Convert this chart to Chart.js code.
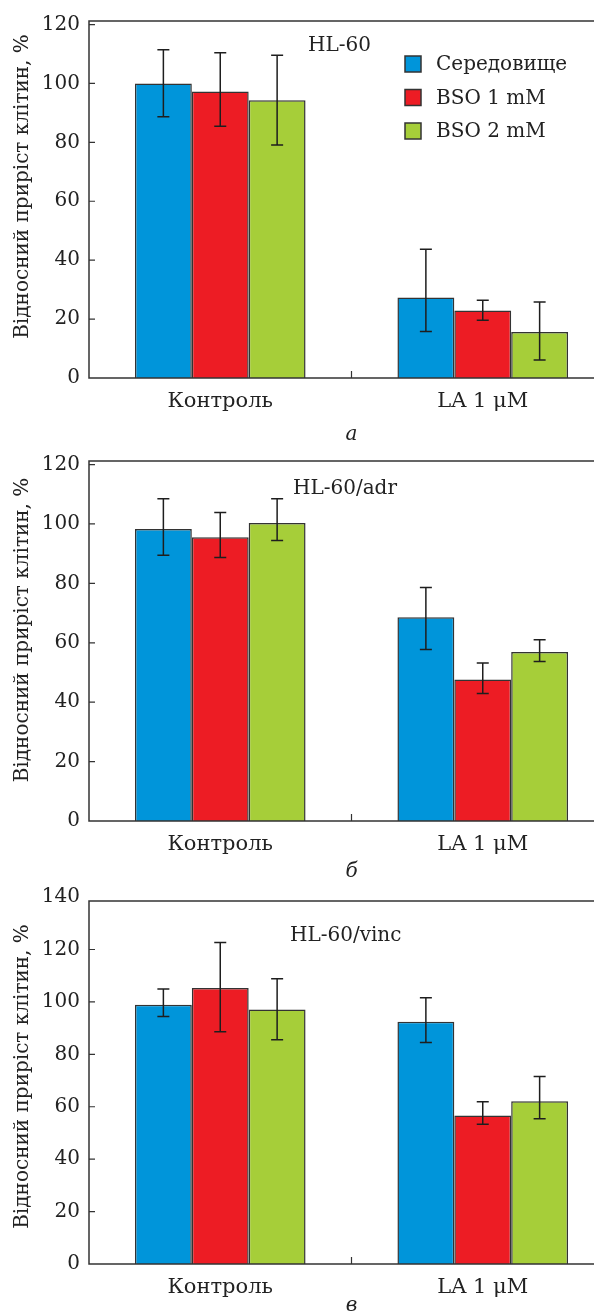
<!DOCTYPE html>
<html>
<head>
<meta charset="utf-8">
<script src="https://cdn.jsdelivr.net/npm/chart.js@4"></script>
<style>
  html, body { margin: 0; padding: 0; background: #fff; overflow: hidden; width: 594px; height: 1312px; }
  .panel { position: absolute; left: 0; width: 620px; }
</style>
</head>
<body>
<div class="panel" style="top:0;height:447px"><canvas id="chartA"></canvas></div>
<div class="panel" style="top:440px;height:444px"><canvas id="chartB"></canvas></div>
<div class="panel" style="top:880px;height:438px"><canvas id="chartC"></canvas></div>
<script>
// ---------- data ----------
const categories = ['Контроль', 'LA 1 μM'];
const seriesNames = ['Середовище', 'BSO 1 mM', 'BSO 2 mM'];
const seriesColors = ['#0095DA', '#ED1C24', '#A6CE39'];
const panelTitles = ['HL-60', 'HL-60/adr', 'HL-60/vinc'];
const panelLetters = ['а', 'б', 'в'];
const yAxisTitle = 'Відносний приріст клітин, %';

const yTicks120 = [0, 20, 40, 60, 80, 100, 120];
const yTicks140 = [0, 20, 40, 60, 80, 100, 120, 140];
const yMaxA = 121.2;
const yMaxB = 121.2;
const yMaxC = 138.5;

// panel а: HL-60
const hl60Medium = [100.0, 27.3];
const hl60MediumLow = [88.7, 15.8];
const hl60MediumHigh = [111.4, 43.7];
const hl60Bso1 = [97.3, 22.9];
const hl60Bso1Low = [85.5, 19.6];
const hl60Bso1High = [110.4, 26.4];
const hl60Bso2 = [94.3, 15.6];
const hl60Bso2Low = [79.1, 6.1];
const hl60Bso2High = [109.6, 25.8];

// panel б: HL-60/adr
const adrMedium = [98.3, 68.6];
const adrMediumLow = [89.5, 57.7];
const adrMediumHigh = [108.5, 78.6];
const adrBso1 = [95.5, 47.6];
const adrBso1Low = [88.7, 42.9];
const adrBso1High = [103.9, 53.2];
const adrBso2 = [100.3, 56.9];
const adrBso2Low = [94.4, 53.7];
const adrBso2High = [108.5, 61.0];

// panel в: HL-60/vinc
const vincMedium = [98.9, 92.4];
const vincMediumLow = [94.4, 84.5];
const vincMediumHigh = [104.9, 101.6];
const vincBso1 = [105.3, 56.7];
const vincBso1Low = [88.6, 53.3];
const vincBso1High = [122.7, 61.9];
const vincBso2 = [97.1, 62.1];
const vincBso2Low = [85.6, 55.4];
const vincBso2High = [108.8, 71.5];

// ---------- styling ----------
const FONT = '"DejaVu Serif", "Liberation Serif", serif';
const TEXT = '#222';
const LINE = '#333';

const panelPlugin = {
  id: 'panel',
  afterDatasetsDraw(chart) {
    const ctx = chart.ctx;
    const ys = chart.scales.y;
    ctx.save();
    ctx.strokeStyle = '#1e1e1e';
    ctx.lineWidth = 1.5;
    chart.data.datasets.forEach((ds, i) => {
      const meta = chart.getDatasetMeta(i);
      meta.data.forEach((bar, j) => {
        const yl = ys.getPixelForValue(ds.errLow[j]);
        const yh = ys.getPixelForValue(ds.errHigh[j]);
        const cap = 6;
        ctx.beginPath();
        ctx.moveTo(bar.x, yl); ctx.lineTo(bar.x, yh);
        ctx.moveTo(bar.x - cap, yl); ctx.lineTo(bar.x + cap, yl);
        ctx.moveTo(bar.x - cap, yh); ctx.lineTo(bar.x + cap, yh);
        ctx.stroke();
      });
    });
    ctx.restore();
  },
  afterDraw(chart, args, opts) {
    const ctx = chart.ctx;
    const a = chart.chartArea;
    const xs = chart.scales.x, ys = chart.scales.y;
    ctx.save();
    // frame: top, left, bottom
    ctx.strokeStyle = LINE;
    ctx.lineWidth = 1.5;
    ctx.beginPath();
    ctx.moveTo(a.right, a.top); ctx.lineTo(a.left, a.top);
    ctx.lineTo(a.left, a.bottom); ctx.lineTo(a.right, a.bottom);
    ctx.stroke();
    // inward ticks
    ctx.lineWidth = 1.2;
    ctx.beginPath();
    ys.ticks.forEach(t => {
      if (t.value <= ys.max && t.value > ys.min) {
        const y = ys.getPixelForValue(t.value);
        ctx.moveTo(a.left, y); ctx.lineTo(a.left + 6, y);
      }
    });
    const xm = xs.getPixelForValue(0.5);
    ctx.moveTo(xm, a.bottom); ctx.lineTo(xm, a.bottom - 7);
    ctx.stroke();
    // y title
    ctx.fillStyle = TEXT;
    ctx.font = '20px ' + FONT;
    ctx.textAlign = 'center';
    ctx.textBaseline = 'middle';
    ctx.save();
    ctx.translate(23, (a.top + a.bottom) / 2 - opts.yTitleShift);
    ctx.rotate(-Math.PI / 2);
    ctx.fillText(yAxisTitle, 0, 0);
    ctx.restore();
    // panel title
    ctx.textAlign = 'left';
    ctx.fillText(opts.title, opts.titleX, a.top + opts.titleDy);
    // legend
    if (opts.legend) {
      chart.data.datasets.forEach((ds, i) => {
        const cy = a.top + 43 + i * 33.5;
        ctx.fillStyle = ds.backgroundColor;
        ctx.fillRect(405, cy - 8, 16, 16);
        ctx.strokeStyle = LINE;
        ctx.lineWidth = 1.5;
        ctx.strokeRect(405, cy - 8, 16, 16);
        ctx.fillStyle = TEXT;
        ctx.fillText(ds.label, 436, cy + 1);
      });
    }
    ctx.restore();
  }
};

function makeChart(id, cfg) {
  const series = cfg.series;
  return new Chart(document.getElementById(id), {
    type: 'bar',
    data: {
      labels: categories,
      datasets: series.map((s, i) => ({
        label: seriesNames[i],
        data: s[0],
        errLow: s[1],
        errHigh: s[2],
        backgroundColor: seriesColors[i],
        borderColor: LINE,
        borderWidth: 1.5,
        barPercentage: 1,
        categoryPercentage: 0.65
      }))
    },
    options: {
      responsive: true,
      maintainAspectRatio: false,
      animation: false,
      layout: { padding: { top: cfg.top, right: 6, left: 0, bottom: 0 } },
      plugins: {
        legend: { display: false },
        tooltip: { enabled: false },
        panel: { title: cfg.title, titleX: cfg.titleX, titleDy: cfg.titleDy, legend: cfg.legend, yTitleShift: cfg.yTitleShift }
      },
      scales: {
        x: {
          grid: { display: false, drawTicks: false },
          border: { display: false },
          ticks: { font: { family: FONT, size: 21 }, color: TEXT, padding: 11 },
          title: { display: true, text: cfg.letter, color: TEXT, padding: 0, font: { family: FONT, size: 20, style: 'italic' } },
          afterFit: s => { s.height = cfg.xh; }
        },
        y: {
          min: 0,
          max: cfg.yMax,
          grid: { display: false, drawTicks: false },
          border: { display: false },
          ticks: { font: { family: FONT, size: 20 }, color: TEXT, padding: 9 },
          afterBuildTicks: s => { s.ticks = cfg.ticks.map(v => ({ value: v })); },
          afterFit: s => { s.width = 89; }
        }
      }
    },
    plugins: [panelPlugin]
  });
}

makeChart('chartA', {
  series: [[hl60Medium, hl60MediumLow, hl60MediumHigh], [hl60Bso1, hl60Bso1Low, hl60Bso1High], [hl60Bso2, hl60Bso2Low, hl60Bso2High]],
  title: panelTitles[0], letter: panelLetters[0], ticks: yTicks120, yMax: yMaxA,
  top: 13, xh: 69, titleX: 308, titleDy: 25, legend: true, yTitleShift: 13
});
makeChart('chartB', {
  series: [[adrMedium, adrMediumLow, adrMediumHigh], [adrBso1, adrBso1Low, adrBso1High], [adrBso2, adrBso2Low, adrBso2High]],
  title: panelTitles[1], letter: panelLetters[1], ticks: yTicks120, yMax: yMaxB,
  top: 15, xh: 63, titleX: 293, titleDy: 28, legend: false, yTitleShift: 11
});
makeChart('chartC', {
  series: [[vincMedium, vincMediumLow, vincMediumHigh], [vincBso1, vincBso1Low, vincBso1High], [vincBso2, vincBso2Low, vincBso2High]],
  title: panelTitles[2], letter: panelLetters[2], ticks: yTicks140, yMax: yMaxC,
  top: 18, xh: 54, titleX: 290, titleDy: 35, legend: false, yTitleShift: 6
});
</script>
</body>
</html>
